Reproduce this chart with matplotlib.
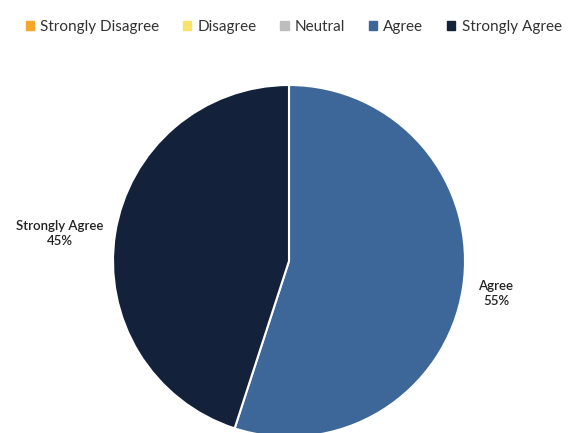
import numpy as np
import matplotlib.pyplot as plt

plt.rcParams['font.family'] = ['Lato', 'DejaVu Sans']

categories = ['Strongly Disagree', 'Disagree', 'Neutral', 'Agree', 'Strongly Agree']
values = [0, 0, 0, 55, 45]
colors = ['#F6A72B', '#FCE26A', '#BDBDBD', '#3D6798', '#13223A']

fig = plt.figure(figsize=(5.70, 4.33), dpi=100)
# square axes in pixels so the pie keeps its shape
ax = fig.add_axes([113 / 570, -4 / 433, 352 / 570, 352 / 433])

wedges, texts = ax.pie(values, colors=colors, startangle=90, counterclock=False,
                       radius=1, wedgeprops=dict(edgecolor='white', linewidth=1.5),
                       labels=None)
ax.set_xlim(-1, 1)
ax.set_ylim(-1, 1)
ax.set_aspect('auto')
ax.axis('off')

# data labels for the non-zero slices
label_dist = {'Agree': (1.19, 0.0), 'Strongly Agree': (1.32, -0.05)}
total = sum(values)
for w, cat, v in zip(wedges, categories, values):
    if v == 0:
        continue
    ang = np.deg2rad((w.theta1 + w.theta2) / 2)
    d, dy = label_dist[cat]
    ax.text(d * np.cos(ang), d * np.sin(ang) + dy, f'{cat}\n{v / total:.0%}',
            ha='center', va='center', fontsize=9.5, color='#222222',
            fontweight='semibold', linespacing=1.3, clip_on=False)

handles = [plt.Rectangle((0, 0), 1, 1, color=c) for c in colors]
fig.legend(handles, categories, loc='upper center', bbox_to_anchor=(0.515, 0.985),
           ncol=5, frameon=False, fontsize=11, handlelength=0.55, handleheight=0.55,
           handletextpad=0.4, columnspacing=1.55, labelcolor='#333333')

fig.savefig('out.png', dpi=100)
